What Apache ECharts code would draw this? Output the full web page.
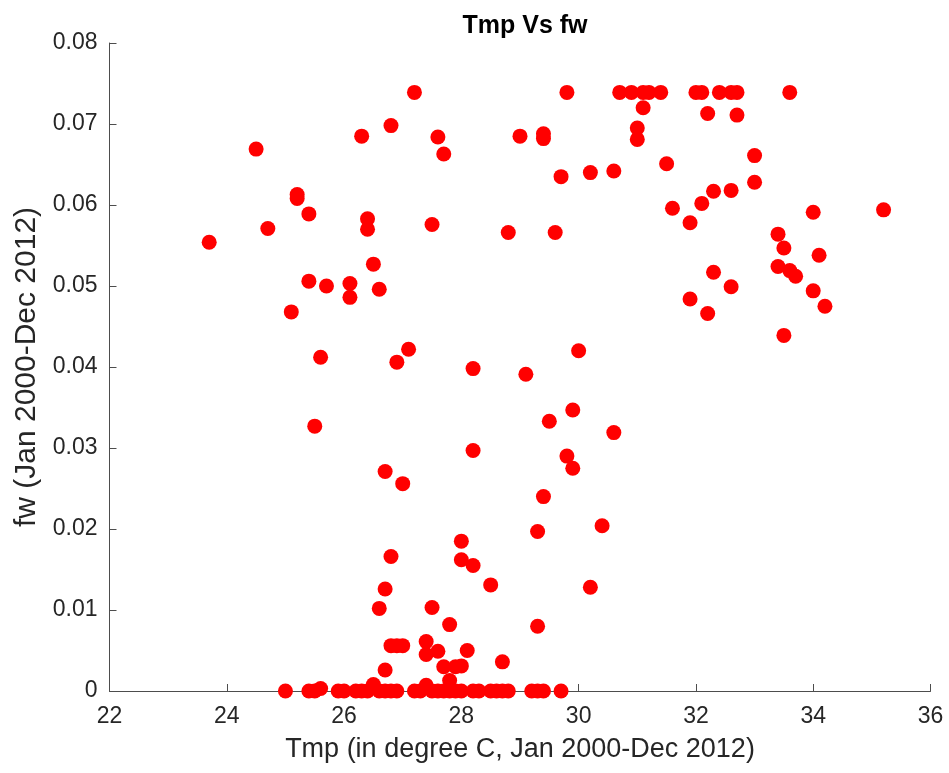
<!DOCTYPE html>
<html>
<head>
<meta charset="utf-8">
<script src="https://cdn.jsdelivr.net/npm/echarts@6/dist/echarts.min.js"></script>
<style>
html,body{margin:0;padding:0;background:#fff;}
#chart{width:949px;height:773px;}
</style>
</head>
<body>
<div id="chart"></div>
<script>
// Temperature (x) values
var tmp = [
  27.2, 29.8, 30.7, 30.9, 31.1, 31.2, 31.4, 32.0, 32.1, 32.4, 32.6, 32.7, 33.6,
  26.8, 26.3, 27.6, 27.7, 29.0, 24.5, 25.2, 25.2, 25.4, 24.7, 23.7, 26.4, 26.4, 27.5, 28.8,
  26.5, 25.4, 25.7, 26.1, 26.1, 26.6, 25.1, 25.6, 27.1, 26.9, 28.2,
  31.1, 32.2, 32.7, 29.4, 29.4, 31.0, 31.0, 33.0, 31.5, 29.7, 30.2, 30.6, 33.0, 32.3, 32.6,
  32.1, 31.6, 31.9, 34.0, 35.2, 29.6, 33.4, 33.5, 34.1, 33.4, 33.6, 33.7, 32.3, 32.6, 31.9,
  32.2, 34.0, 34.2, 33.5, 30.0,
  29.1, 25.5, 28.2, 26.7, 27.0, 28.0, 28.0, 28.2, 26.8, 28.5, 26.7, 26.6, 27.5, 27.8,
  29.9, 29.5, 30.6, 29.8, 29.9, 29.4, 29.3, 30.4, 30.2, 29.3,
  26.8, 26.9, 27.0, 27.4, 27.4, 27.6, 28.1, 28.7, 26.7, 27.7, 27.9, 28.0, 27.8, 26.5, 27.4, 25.6,
  25.0, 25.4, 25.5, 25.9, 26.0, 26.2, 26.3, 26.4, 26.6, 26.7, 26.8, 26.9, 27.2, 27.3, 27.5,
  27.6, 27.7, 27.8, 27.9, 28.0, 28.2, 28.3, 28.5, 28.6, 28.7, 28.8, 29.2, 29.3, 29.4, 29.7
];
// fw (y) values, same order
var fw = [
  0.0739, 0.0739, 0.0739, 0.0739, 0.0739, 0.0739, 0.0739, 0.0739, 0.0739, 0.0739, 0.0739, 0.0739, 0.0739,
  0.0698, 0.0685, 0.0684, 0.0663, 0.0685, 0.0669, 0.0613, 0.0608, 0.0589, 0.0571, 0.0554, 0.0583, 0.0570, 0.0576, 0.0566,
  0.0527, 0.0506, 0.0500, 0.0503, 0.0486, 0.0496, 0.0468, 0.0412, 0.0422, 0.0406, 0.0398,
  0.0720, 0.0713, 0.0711, 0.0688, 0.0682, 0.0695, 0.0681, 0.0661, 0.0651, 0.0635, 0.0640, 0.0642, 0.0628, 0.0617, 0.0618,
  0.0602, 0.0596, 0.0578, 0.0591, 0.0594, 0.0566, 0.0564, 0.0547, 0.0538, 0.0524, 0.0519, 0.0512, 0.0517, 0.0499, 0.0484,
  0.0466, 0.0494, 0.0475, 0.0439, 0.0420,
  0.0391, 0.0327, 0.0297, 0.0271, 0.0256, 0.0185, 0.0162, 0.0155, 0.0166, 0.0131, 0.0126, 0.0102, 0.0103, 0.0082,
  0.0347, 0.0333, 0.0319, 0.0290, 0.0275, 0.0240, 0.0197, 0.0204, 0.0128, 0.0080,
  0.0056, 0.0056, 0.0056, 0.0061, 0.0045, 0.0049, 0.0050, 0.0036, 0.0026, 0.0030, 0.0030, 0.0031, 0.0013, 0.0008, 0.0007, 0.0003,
  0, 0, 0, 0, 0, 0, 0, 0, 0, 0, 0, 0, 0, 0, 0,
  0, 0, 0, 0, 0, 0, 0, 0, 0, 0, 0, 0, 0, 0, 0
];
var xTicks = [22, 24, 26, 28, 30, 32, 34, 36];
var yTicks = [0, 0.01, 0.02, 0.03, 0.04, 0.05, 0.06, 0.07, 0.08];

var points = tmp.map(function (t, i) { return [t, fw[i]]; });

var FONT = '"Liberation Sans", Arial, Helvetica, sans-serif';
var axisCol = '#4d4d4d';
var txtCol = '#262626';

var chart = echarts.init(document.getElementById('chart'), null, {renderer: 'canvas'});
chart.setOption({
  animation: false,
  backgroundColor: '#ffffff',
  title: {
    text: 'Tmp Vs fw',
    left: 520, top: 9, textAlign: 'center',
    textStyle: {fontFamily: FONT, fontSize: 25, fontWeight: 'bold', color: '#000'}
  },
  grid: {left: 109.5, right: 18.5, top: 43, bottom: 82, containLabel: false},
  xAxis: {
    type: 'value',
    min: xTicks[0], max: xTicks[xTicks.length - 1], interval: 2,
    name: 'Tmp (in degree C, Jan 2000-Dec 2012)',
    nameLocation: 'middle', nameGap: 45,
    nameTextStyle: {fontFamily: FONT, fontSize: 27, color: txtCol},
    axisLine: {lineStyle: {color: axisCol, width: 1}},
    axisTick: {inside: true, length: 7, lineStyle: {color: axisCol}},
    axisLabel: {fontFamily: FONT, fontSize: 23, color: txtCol, margin: 14},
    splitLine: {show: false}
  },
  yAxis: {
    type: 'value',
    min: yTicks[0], max: yTicks[yTicks.length - 1], interval: 0.01,
    name: 'fw (Jan 2000-Dec 2012)',
    nameLocation: 'middle', nameGap: 67, nameRotate: 90,
    nameTextStyle: {fontFamily: FONT, fontSize: 30, color: txtCol},
    axisLine: {show: true, lineStyle: {color: axisCol, width: 1}},
    axisTick: {show: true, inside: true, length: 7, lineStyle: {color: axisCol}},
    axisLabel: {fontFamily: FONT, fontSize: 23, color: txtCol, margin: 12,
      formatter: function (v) { return String(Math.round(v * 100) / 100); }},
    splitLine: {show: false}
  },
  series: [{
    type: 'scatter',
    data: points,
    symbol: 'circle',
    symbolSize: 15,
    itemStyle: {color: '#ff0000', opacity: 1},
    clip: false
  }]
});
</script>
</body>
</html>
